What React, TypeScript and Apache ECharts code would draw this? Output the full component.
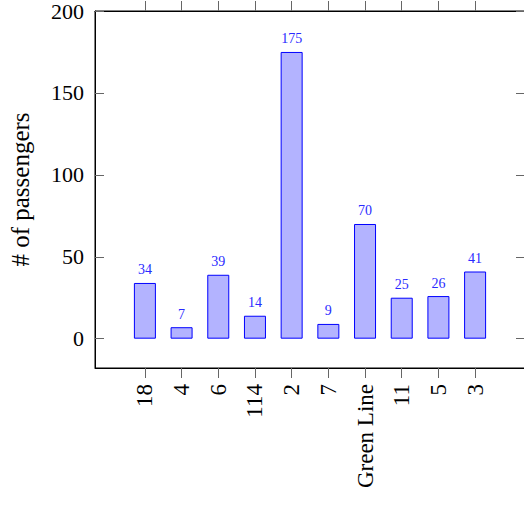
import React, { useEffect, useRef } from "react";
import * as echarts from "echarts";

const categories = ["18", "4", "6", "114", "2", "7", "Green Line", "11", "5", "3"];
const passengers = [34, 7, 39, 14, 175, 9, 70, 25, 26, 41];
const yTicks = [0, 50, 100, 150, 200];
const yAxisTitle = "# of passengers";

const FONT = "Liberation Serif";

export default function App() {
  const ref = useRef<HTMLDivElement>(null);

  useEffect(() => {
    if (!ref.current) return;
    const chart = echarts.init(ref.current, null, { renderer: "svg" });
    const idx = categories.map((_, i) => i);
    const tickColor = "#666";
    const xMin = -1.36;
    const xMax = categories.length - 1 + 1.36;
    const line = { show: true, onZero: false, lineStyle: { color: "#000", width: 1 } };
    chart.setOption({
      animation: false,
      grid: {
        left: 95,
        right: 5,
        top: 11,
        bottom: 137,
        show: true,
        borderColor: "#000",
        borderWidth: 1,
        containLabel: false,
      },
      xAxis: [
        {
          type: "value",
          min: xMin,
          max: xMax,
          position: "bottom",
          axisLine: line,
          axisTick: {
            show: true,
            inside: false,
            length: 10,
            customValues: idx,
            lineStyle: { color: tickColor, width: 1 },
          },
          axisLabel: {
            show: true,
            customValues: idx,
            rotate: 90,
            margin: 16,
            fontFamily: FONT,
            fontSize: 23,
            color: "#000",
            formatter: (v: number) => categories[Math.round(v)] ?? "",
          },
          splitLine: { show: false },
        },
        {
          type: "value",
          min: xMin,
          max: xMax,
          position: "top",
          axisLine: line,
          axisTick: {
            show: true,
            inside: false,
            length: 10,
            customValues: idx,
            lineStyle: { color: tickColor, width: 1 },
          },
          axisLabel: { show: false },
          splitLine: { show: false },
        },
      ],
      yAxis: [
        {
          type: "value",
          min: -17.9,
          max: 200,
          position: "left",
          name: yAxisTitle,
          nameLocation: "middle",
          nameGap: 62,
          nameTextStyle: { fontFamily: FONT, fontSize: 25, color: "#000" },
          axisLine: line,
          axisTick: {
            show: true,
            inside: true,
            length: 9,
            customValues: yTicks,
            lineStyle: { color: tickColor, width: 1 },
          },
          axisLabel: {
            show: true,
            customValues: yTicks,
            margin: 11,
            fontFamily: FONT,
            fontSize: 22,
            color: "#000",
          },
          splitLine: { show: false },
        },
        {
          type: "value",
          min: -17.9,
          max: 200,
          position: "right",
          axisLine: line,
          axisTick: {
            show: true,
            inside: true,
            length: 9,
            customValues: yTicks,
            lineStyle: { color: tickColor, width: 1 },
          },
          axisLabel: { show: false },
          splitLine: { show: false },
        },
      ],
      series: [
        {
          type: "bar",
          xAxisIndex: 0,
          yAxisIndex: 0,
          barWidth: 22,
          data: passengers.map((v, i) => [i, v]),
          itemStyle: {
            color: "rgb(179,179,255)",
            borderColor: "rgb(0,0,255)",
            borderWidth: 1,
          },
          label: {
            show: true,
            position: "top",
            distance: 6,
            fontFamily: FONT,
            fontSize: 14,
            color: "#2a2aff",
            formatter: (p: any) => String(p.value[1]),
          },
        },
      ],
    });
    return () => chart.dispose();
  }, []);

  return (
    <div
      style={{
        position: "absolute",
        left: 0,
        top: 0,
        width: 524,
        height: 505,
        overflow: "hidden",
        background: "#fff",
      }}
    >
      <div ref={ref} style={{ width: 530, height: 505 }} />
    </div>
  );
}
